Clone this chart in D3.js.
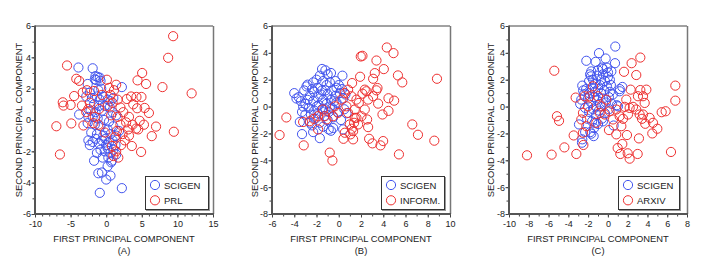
<!DOCTYPE html>
<html><head><meta charset="utf-8">
<script src="https://cdn.jsdelivr.net/npm/d3@7/dist/d3.min.js"></script>
<style>html,body{margin:0;padding:0;background:#fff;}svg{display:block;font-family:"Liberation Sans",Arial,sans-serif;}</style>
</head><body>
<script>
// ---------- DATA ----------
const panelLabels = ["(A)", "(B)", "(C)"];
const legendNames = [["SCIGEN", "PRL"], ["SCIGEN", "INFORM."], ["SCIGEN", "ARXIV"]];
const xDomains = [[-10, 15], [-6, 10], [-10, 8]];
const yDomains = [[-6, 6], [-8, 6], [-8, 6]];
const xTicksA = [-10, -5, 0, 5, 10, 15];
const xTicksB = [-6, -4, -2, 0, 2, 4, 6, 8, 10];
const xTicksC = [-10, -8, -6, -4, -2, 0, 2, 4, 6, 8];
const yTicksA = [-6, -4, -2, 0, 2, 4, 6];
const yTicksBC = [-8, -6, -4, -2, 0, 2, 4, 6];

const scigenA = [
 [-3.9,3.35],[-1.9,3.3],[-1.5,2.8],[-1.2,2.75],[-0.9,2.7],[-1.4,2.55],[-0.8,2.5],[-1.6,2.6],[-2.6,2.3],[2.2,2.1],[-0.7,2.0],[-1.1,1.9],[-2.3,1.75],
 [-2.8,1.5],[-2.0,1.4],[-1.3,1.5],[-0.9,1.3],[-0.4,1.5],[0.2,1.3],[0.6,1.2],[1.0,1.4],[-1.7,1.0],[-1.0,0.9],[-0.2,0.9],[0.5,0.8],[-2.2,0.6],[-1.5,0.5],[-0.6,0.6],[0.9,0.5],[-3.8,0.35],[1.4,0.3],[-2.5,0.2],
 [-1.9,0.2],[-1.2,0.1],[-0.3,0.0],[0.4,-0.1],[-2.6,-0.2],[-1.6,-0.3],[-0.8,-0.4],[0.2,-0.6],[1.0,-0.4],[1.8,-0.7],[-2.1,-0.8],[-1.3,-0.9],[-0.4,-1.0],[0.6,-0.9],[1.4,-1.0],
 [-2.5,-1.3],[-2.3,-1.6],[-1.9,-1.4],[-1.5,-1.2],[-1.0,-1.5],[-0.6,-1.3],[-0.1,-1.2],[0.4,-1.4],[0.9,-1.3],[-1.3,-2.1],[-0.8,-1.9],[-0.2,-2.0],[0.2,-1.8],[0.6,-2.1],[1.0,-1.9],[1.4,-2.2],[-0.5,-2.4],[0.3,-2.4],[0.8,-2.6],[1.3,-1.6],[0.0,-1.6],
 [-1.7,-2.6],[0.7,-2.7],[0.2,-2.95],[-1.1,-3.4],[-0.6,-3.35],[0.6,-3.55],[0.0,-3.8],[-0.9,-4.65],[2.2,-4.35]
];
const prl = [
 [9.4,5.35],[8.7,3.97],[-5.5,3.48],[5.05,3.0],[4.4,2.53],[5.6,2.3],[7.9,2.1],[12.0,1.7],[0.1,2.57],[-4.2,2.63],[-3.8,2.5],[1.4,2.25],[0.4,2.05],[1.1,1.9],[-2.7,1.9],[-3.3,1.75],[-1.7,1.85],
 [-6.1,1.13],[-6.0,0.92],[-5.0,0.96],[-4.5,1.53],[-3.4,0.92],[-2.3,1.1],[2.9,1.34],[3.5,1.5],[4.25,1.47],[4.95,1.47],[4.35,0.75],[5.4,0.77],[6.0,0.45],[4.7,-0.05],[5.3,-0.3],[7.0,-0.42],[4.2,-0.55],[4.5,-0.6],
 [6.4,-1.03],[9.5,-0.75],[4.9,-2.04],[3.6,-1.66],[3.2,-1.0],[2.8,-0.15],[2.4,0.5],[-7.0,-0.4],[-6.5,-2.2],[-4.9,-0.22],[-3.2,-0.35],[-2.5,0.7],[0.8,-1.66],[1.0,-2.3],[1.4,-2.0],
 [-1.1,-0.3],[-1.6,0.2],[0.2,0.9],[0.9,1.1],[1.6,1.3],[2.0,0.8],[1.6,0.2],[2.0,-0.3],[1.5,-0.7],[2.3,-0.9],[2.6,-1.3],[2.1,-1.6],[1.7,-2.4],[-0.2,-0.8],[-1.0,0.7],[-1.8,-0.2],[0.7,0.3],[3.2,0.2],[3.7,-0.3],[3.1,-0.6],[-2.8,0.5],[-0.6,1.6],[0.6,1.6],[3.8,1.0],[1.2,-1.1]
];
const scigenB = [
 [-4.0,1.0],[-3.6,0.7],[-3.4,0.4],[-3.1,1.2],[-3.0,0.2],[-3.3,-0.4],[-3.5,-1.15],[-3.3,-2.05],[-2.9,1.5],[-2.8,1.63],[-2.6,0.8],[-2.7,-0.1],[-2.5,-0.6],[-2.6,-1.2],[-2.3,1.8],[-2.2,1.1],[-2.3,0.4],[-2.2,-0.3],[-2.1,-0.9],[-2.3,-1.9],
 [-2.0,2.0],[-1.9,1.4],[-1.9,0.7],[-1.8,0.1],[-1.9,-0.5],[-1.7,-1.2],[-1.7,-2.35],[-1.7,2.3],[-1.5,2.8],[-1.2,2.7],[-1.4,1.9],[-1.5,1.2],[-1.4,0.5],[-1.5,-0.2],[-1.3,-0.7],[-1.4,-1.5],
 [-1.0,2.4],[-1.1,1.6],[-1.0,0.9],[-1.1,0.2],[-0.9,-0.4],[-1.0,-1.0],[-0.7,2.5],[-0.8,1.8],[-0.6,1.2],[-0.7,0.5],[-0.6,-0.1],[-0.5,-0.8],[-0.5,-1.6],[-0.7,-1.8],
 [-0.3,1.9],[-0.2,1.4],[-0.3,0.8],[-0.2,0.3],[-0.1,-0.4],[0.0,1.6],[0.1,1.0],[0.33,2.3],[0.3,1.3],[0.4,0.6],[0.4,-1.7],[0.5,-0.2],[0.2,-1.0],
 [-2.4,1.3],[-2.0,0.0],[-1.6,0.9],[-1.2,-0.2],[-0.8,0.0],[-0.4,0.4],[-2.8,0.5],[-3.0,-0.6],[-2.4,-1.4],[-1.2,1.2],[-0.9,-1.7],[0.6,0.9],[0.7,-0.5],[-3.8,0.6],[-3.2,0.0]
];
const inform = [
 [4.32,4.4],[4.92,3.98],[1.98,3.73],[2.13,3.78],[3.39,3.43],[4.05,2.79],[3.24,2.49],[3.09,2.07],[1.92,2.22],[5.32,2.32],[5.71,1.8],[8.83,2.07],[1.2,1.75],[2.49,1.14],[2.34,1.26],[2.13,0.96],[3.48,1.38],[3.39,1.21],[3.09,0.77],[3.54,0.22],
 [4.47,0.62],[4.98,0.44],[4.47,-0.32],[3.93,-0.59],[2.64,0.52],[-4.71,-0.81],[-5.32,-2.12],[-3.15,-2.89],[-0.81,-3.43],[-0.57,-4.02],[6.61,-1.33],[7.12,-2.1],[8.59,-2.54],[5.41,-3.56],[3.03,-2.74],[2.73,-2.4],[2.64,-1.53],[2.55,-0.96],[3.75,-2.89],[3.99,-2.57],
 [0.84,-0.47],[1.29,-2.44],[1.05,-2.07],[0.42,-2.4],[1.17,-1.65],[1.38,-1.21],[1.74,-1.33],[0.69,0.02],[1.44,-0.22],[1.59,0.52],[1.8,0.27],[0.54,1.01],[0.84,1.26],[1.14,0.77],[2.04,-0.72],[2.34,-0.22],[1.44,-0.84],[0.99,-1.33],
 [-0.06,-0.47],[-0.51,-0.72],[-1.11,-0.96],[-1.86,-0.72],[-2.25,-0.91],[-2.61,-1.09],[-1.86,-1.7],[-1.26,-0.72],[0.24,0.52],[-0.36,0.02],[-1.41,-0.22],[1.29,-1.83],[0.54,-1.95],[1.59,-0.84],[-3.2,-1.15]
];
const scigenC = [
 [0.75,4.47],[-0.9,3.98],[-0.23,3.58],[0.72,3.23],[-2.18,3.41],[-1.24,3.33],[-1.68,2.62],[-1.71,2.25],[-0.5,2.79],[0.01,2.54],[0.35,2.62],[1.46,1.46],[-2.59,1.56],[1.19,1.14],[1.02,0.02],[-2.62,-2.69],[-2.59,-2.44],[-1.78,-1.9],[-1.44,-2.2],[-1.68,-2.02],[-1.34,-1.21],[-2.92,-1.33],[0.58,-1.41],[-2.69,0.52],
 [-2.2,1.3],[-1.9,1.0],[-1.6,1.4],[-1.3,1.1],[-1.0,1.3],[-0.7,1.0],[-0.4,1.2],[-0.1,1.5],[0.2,1.1],[0.5,0.9],[-2.0,0.6],[-1.7,0.3],[-1.4,0.7],[-1.1,0.5],[-0.8,0.2],[-0.5,0.6],[-0.2,0.3],[0.1,0.7],
 [-2.3,-0.1],[-1.9,-0.4],[-1.5,-0.2],[-1.2,-0.6],[-0.9,-0.3],[-0.6,-0.9],[-0.3,-0.5],[0.1,-0.2],[-2.1,-0.9],[-1.6,-1.1],[-1.0,-1.3],[-0.5,-1.1],[-1.9,1.9],[-1.5,2.0],[-1.1,2.3],[-0.7,2.0],[-0.3,1.9],[0.0,2.2],
 [-1.8,2.4],[-1.0,2.7],[-0.5,2.4],[0.2,2.0],[-0.1,2.9],[-0.6,2.9],[-1.3,1.7],[-2.4,0.9],[-0.8,1.6],[0.3,1.6],[-1.4,-1.6],[-2.3,-1.9],[-1.2,0.0],[0.4,0.2],[0.9,0.1],[-2.8,0.2],[-2.5,1.2],[1.2,1.3]
];
const arxiv = [
 [-8.18,-3.63],[-5.69,-3.58],[-4.4,-3.04],[-3.19,-3.53],[-5.42,2.67],[-5.15,-0.72],[-4.94,-1.06],[-3.46,-2.15],[-3.26,0.67],[-2.48,-2.86],[-2.52,-1.95],[2.4,3.23],[3.28,3.65],[1.63,2.59],[2.87,2.35],[6.82,1.56],[6.82,0.44],
 [2.3,1.26],[3.28,1.23],[3.55,0.77],[3.04,0.77],[3.72,0.27],[2.54,-0.02],[3.55,-0.59],[4.22,-0.84],[4.56,-1.21],[5.44,-0.42],[5.84,-0.35],[5.0,-1.65],[4.49,-2.0],[3.78,-1.28],[6.38,-3.38],[3.14,-2.37],[3.01,-3.53],
 [2.2,-3.88],[2.0,-3.48],[1.46,-2.79],[1.26,-3.53],[0.99,-3.09],[1.93,-2.12],[0.85,-2.07],[0.11,-1.75],[1.36,-1.46],[1.53,-0.91],[2.03,-0.59],[2.2,-0.1],[1.7,-0.02],[1.19,-0.72],[0.85,-0.22],[0.52,-0.96],[0.18,-0.35],
 [-0.33,-0.59],[-0.66,0.02],[-0.16,0.52],[-1.0,0.77],[-1.51,1.51],[-1.84,0.77],[-2.01,0.02],[-2.52,-0.47],[-2.69,-0.96],[-2.18,-1.46],[-1.17,-1.21],[-0.83,-0.47],[-2.35,0.77],[2.87,-0.22],[3.21,-0.59],[1.86,0.52],[3.89,1.26],[3.45,-0.91]
];

// ---------- LAYOUT ----------
const W = 706, H = 269;
const plotTop = 26, plotBottom = 214;
const panels = [
  {left: 35, right: 213, xT: xTicksA, yT: yTicksA, blue: scigenA, red: prl, legX: 145, legW: 63, titleX: 19},
  {left: 272, right: 450, xT: xTicksB, yT: yTicksBC, blue: scigenB, red: inform, legX: 381, legW: 63, titleX: 255},
  {left: 509, right: 687, xT: xTicksC, yT: yTicksBC, blue: scigenC, red: arxiv, legX: 618, legW: 61, titleX: 491}
];
const BLUE = "#4254ee", RED = "#ee3030";

const svg = d3.select("body").append("svg").attr("width", W).attr("height", H);
const fmt = d => String(d);
const range = (a, b, s) => { const r = []; for (let v = a; v <= b + 1e-9; v += s) r.push(v); return r; };

panels.forEach((p, i) => {
  const x = d3.scaleLinear().domain(xDomains[i]).range([p.left, p.right]);
  const y = d3.scaleLinear().domain(yDomains[i]).range([plotBottom, plotTop]);
  const g = svg.append("g");

  // minor ticks
  const xMinor = range(xDomains[i][0], xDomains[i][1], 1);
  const yMinor = range(yDomains[i][0], yDomains[i][1], 1);
  g.append("g").attr("transform", `translate(0,${plotBottom})`)
    .call(d3.axisBottom(x).tickValues(xMinor).tickSize(2.5).tickFormat(""))
    .call(a => a.select(".domain").remove())
    .call(a => a.selectAll("line").attr("stroke", "#444"));
  g.append("g").attr("transform", `translate(${p.left},0)`)
    .call(d3.axisLeft(y).tickValues(yMinor).tickSize(2.5).tickFormat(""))
    .call(a => a.select(".domain").remove())
    .call(a => a.selectAll("line").attr("stroke", "#444"));

  // major ticks + labels
  g.append("g").attr("transform", `translate(0,${plotBottom})`)
    .call(d3.axisBottom(x).tickValues(p.xT).tickSize(3.5).tickPadding(3.5).tickFormat(fmt))
    .call(a => a.select(".domain").remove())
    .call(a => a.selectAll("line").attr("stroke", "#444"))
    .call(a => a.selectAll("text").attr("fill", "#222").style("font-size", "9px").style("font-family", "'Liberation Sans',Arial,sans-serif"));
  g.append("g").attr("transform", `translate(${p.left},0)`)
    .call(d3.axisLeft(y).tickValues(p.yT).tickSize(3.5).tickPadding(0.5).tickFormat(fmt))
    .call(a => a.select(".domain").remove())
    .call(a => a.selectAll("line").attr("stroke", "#444"))
    .call(a => a.selectAll("text").attr("fill", "#222").style("font-size", "9px").style("font-family", "'Liberation Sans',Arial,sans-serif"));

  // frame: top & right thin, left & bottom thick
  g.append("line").attr("x1", p.left).attr("x2", p.right).attr("y1", plotTop).attr("y2", plotTop).attr("stroke", "#444").attr("stroke-width", 1);
  g.append("line").attr("x1", p.right + 0.5).attr("x2", p.right + 0.5).attr("y1", plotTop).attr("y2", plotBottom).attr("stroke", "#777").attr("stroke-width", 1.5);
  g.append("line").attr("x1", p.left).attr("x2", p.left).attr("y1", plotTop - 0.5).attr("y2", plotBottom + 1).attr("stroke", "#555").attr("stroke-width", 2);
  g.append("line").attr("x1", p.left - 1).attr("x2", p.right + 1).attr("y1", plotBottom).attr("y2", plotBottom).attr("stroke", "#555").attr("stroke-width", 2);

  // points
  g.append("g").selectAll("circle").data(p.blue).join("circle")
    .attr("cx", d => x(d[0])).attr("cy", d => y(d[1])).attr("r", 4.6)
    .attr("fill", "none").attr("stroke", BLUE).attr("stroke-width", 1);
  g.append("g").selectAll("circle").data(p.red).join("circle")
    .attr("cx", d => x(d[0])).attr("cy", d => y(d[1])).attr("r", 4.6)
    .attr("fill", "none").attr("stroke", RED).attr("stroke-width", 1);

  // legend
  const lg = g.append("g").attr("transform", `translate(${p.legX},176)`);
  lg.append("rect").attr("x", 1.5).attr("y", 1.5).attr("width", p.legW).attr("height", 33).attr("fill", "none").attr("stroke", "#999").attr("stroke-width", 1);
  lg.append("rect").attr("x", 0.5).attr("y", 0.5).attr("width", p.legW).attr("height", 33).attr("fill", "#fff").attr("stroke", "#333").attr("stroke-width", 1);
  legendNames[i].forEach((nm, k) => {
    lg.append("circle").attr("cx", 10).attr("cy", 9 + k * 15.3).attr("r", 4.6).attr("fill", "none")
      .attr("stroke", k === 0 ? BLUE : RED).attr("stroke-width", 1);
    lg.append("text").attr("x", 19).attr("y", 12.5 + k * 15.3).text(nm)
      .attr("fill", "#222").style("font-size", "9.5px");
  });

  // axis titles
  const cx = (p.left + p.right) / 2;
  g.append("text").attr("x", cx).attr("y", 242).attr("text-anchor", "middle")
    .style("font-size", "9.4px").attr("fill", "#222").text("FIRST PRINCIPAL COMPONENT");
  g.append("text").attr("x", cx).attr("y", 253.5).attr("text-anchor", "middle")
    .style("font-size", "9.4px").attr("fill", "#222").text(panelLabels[i]);
  g.append("text").attr("transform", `translate(${p.titleX + 3.3},${(plotTop + plotBottom) / 2}) rotate(-90)`)
    .attr("text-anchor", "middle").style("font-size", "9.4px").attr("fill", "#222").text("SECOND PRINCIPAL COMPONENT");
});
</script>
</body></html>
